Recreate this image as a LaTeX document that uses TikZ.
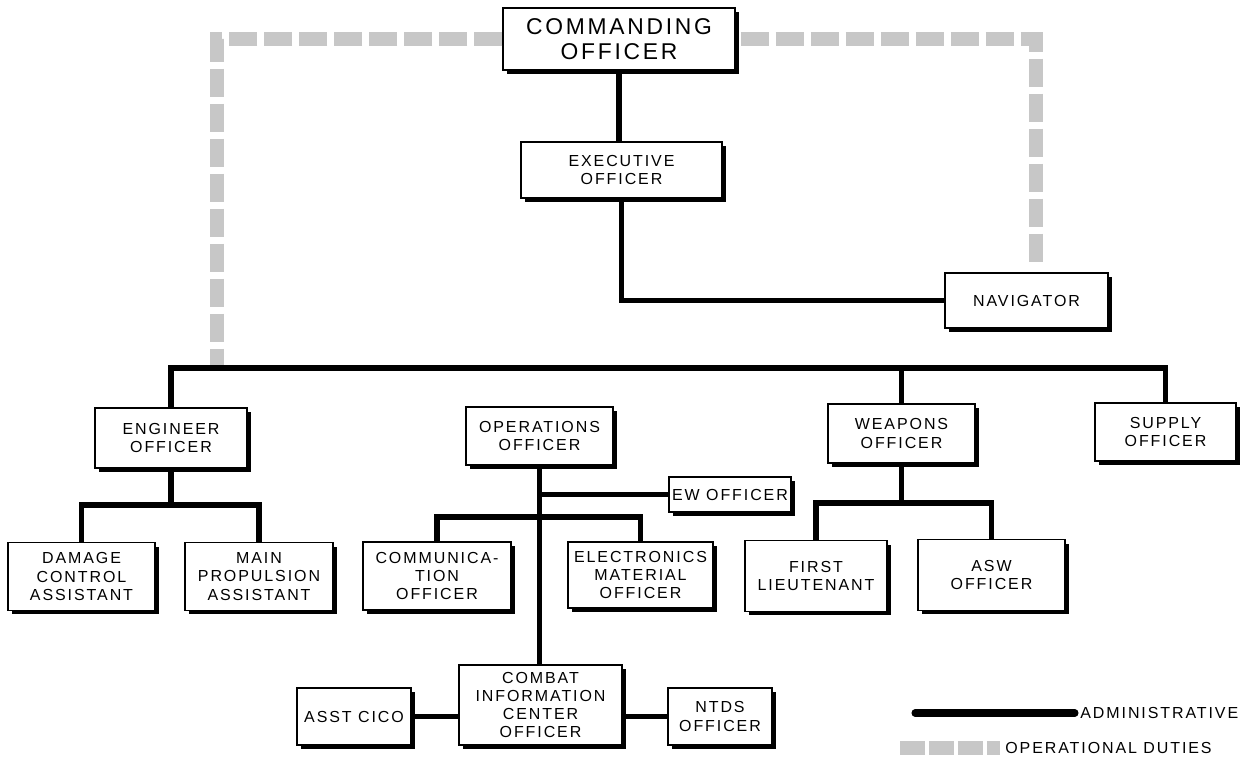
\documentclass[tikz,border=0pt]{standalone}
\usepackage{fontspec}
\setmainfont{Liberation Sans}[LetterSpace=12]
\usepackage{tikz}
\usetikzlibrary{shadows}

\begin{document}
\begin{tikzpicture}[
    x=0.02cm, y=-0.02cm, % one unit is one pixel of the sheet
    every node/.style={font=\fontsize{9.1}{10.4}\selectfont}, % lettering
    box/.style={draw, line width=0.8pt, fill=white, inner sep=0pt, align=center,
        drop shadow={shadow xshift=0.08cm, shadow yshift=-0.08cm, opacity=1, fill=black}}, % officer box
    admin/.style={line width=3.3pt}, % administrative line
    opline/.style={line width=0.27cm, draw=black!22, dash pattern=on 0.56cm off 0.14cm} % operational duties
    ]
    \useasboundingbox (0,0) rectangle (1242,761);

    % command
    \node[box, minimum width=4.64cm, minimum height=1.24cm, font=\fontsize{13}{14.2}\selectfont] (co) at (619,39) {COMMANDING\\OFFICER};
    \node[box, minimum width=4.02cm, minimum height=1.12cm] (xo) at (621.5,170) {EXECUTIVE\\OFFICER};
    \node[box, minimum width=3.26cm, minimum height=1.1cm] (nav) at (1026.5,300.5) {NAVIGATOR};

    % departments
    \node[box, minimum width=3.04cm, minimum height=1.2cm] (eng) at (171,438) {ENGINEER\\OFFICER};
    \node[box, minimum width=2.94cm, minimum height=1.16cm] (ops) at (539.5,436) {OPERATIONS\\OFFICER};
    \node[box, minimum width=2.94cm, minimum height=1.18cm] (wep) at (901.5,433.5) {WEAPONS\\OFFICER};
    \node[box, minimum width=2.82cm, minimum height=1.16cm] (sup) at (1165.5,432) {SUPPLY\\OFFICER};

    % divisions
    \node[box, minimum width=2.94cm, minimum height=1.36cm] (dc) at (81.5,576.5) {DAMAGE\\CONTROL\\ASSISTANT};
    \node[box, minimum width=2.96cm, minimum height=1.36cm] (mp) at (259,576.5) {MAIN\\PROPULSION\\ASSISTANT};
    \node[box, minimum width=2.96cm, minimum height=1.36cm] (comm) at (437,576) {COMMUNICA-\\TION\\OFFICER};
    \node[box, minimum width=2.9cm, minimum height=1.32cm] (elec) at (640.5,575) {ELECTRONICS\\MATERIAL\\OFFICER};
    \node[box, minimum width=2.44cm, minimum height=0.7cm] (ew) at (730,494.5) {EW OFFICER};
    \node[box, minimum width=2.84cm, minimum height=1.42cm] (fl) at (816,576) {FIRST\\LIEUTENANT};
    \node[box, minimum width=2.94cm, minimum height=1.42cm] (asw) at (991.5,575) {ASW\\OFFICER};

    % cic
    \node[box, minimum width=3.26cm, minimum height=1.6cm] (cic) at (540.5,705) {COMBAT\\INFORMATION\\CENTER\\OFFICER};
    \node[box, minimum width=2.28cm, minimum height=1.14cm] (asst) at (354,716.5) {ASST CICO};
    \node[box, minimum width=2.08cm, minimum height=1.14cm] (ntds) at (720,716.5) {NTDS\\OFFICER};

    % operational duties
    \coordinate (opdrop) at (217,368);
    \coordinate (opnav) at (1036,268);
    \draw[opline] (co.west) -| (opdrop);
    \draw[opline] ([xshift=0.1cm]co.east) -| (opnav);

    % administrative
    \coordinate (bar) at (0,368);
    \coordinate (engfork) at (0,505);
    \coordinate (opsfork) at (0,517);
    \coordinate (wepfork) at (0,503);
    \draw[admin] (co.south) -- (co.south |- xo.north);
    \draw[admin] (xo.south) |- (nav.west);
    \draw[admin] (eng.north) -- (eng.north |- bar) -- (sup.north |- bar) -- (sup.north);
    \draw[admin] (wep.north) -- (wep.north |- bar);
    \draw[admin] (eng.south) -- (eng.south |- engfork);
    \draw[admin] (dc.north) -- (dc.north |- engfork) -- (mp.north |- engfork) -- (mp.north);
    \draw[admin] (ops.south) -- (ops.south |- cic.north);
    \draw[admin] (ops.south |- ew.west) -- (ew.west);
    \draw[admin] (comm.north) -- (comm.north |- opsfork) -- (elec.north |- opsfork) -- (elec.north);
    \draw[admin] (wep.south) -- (wep.south |- wepfork);
    \draw[admin] (fl.north) -- (fl.north |- wepfork) -- (asw.north |- wepfork) -- (asw.north);
    \draw[admin] (asst.east) -- (asst.east -| cic.west);
    \draw[admin] (cic.east |- ntds.west) -- (ntds.west);

    % legend
    \coordinate (admstart) at (915,713);
    \node[anchor=west, inner sep=0.1cm] (admtxt) at (1075,713) {ADMINISTRATIVE};
    \draw[admin, line width=4pt, line cap=round] (admstart) -- (admtxt.west);
    \coordinate (opstart) at (900,748);
    \node[anchor=west, inner sep=0.1cm] (optxt) at (1000,748) {OPERATIONAL DUTIES};
    \draw[opline, dash pattern=on 0.5cm off 0.08cm] (opstart) -- (optxt.west);
\end{tikzpicture}
\end{document}
